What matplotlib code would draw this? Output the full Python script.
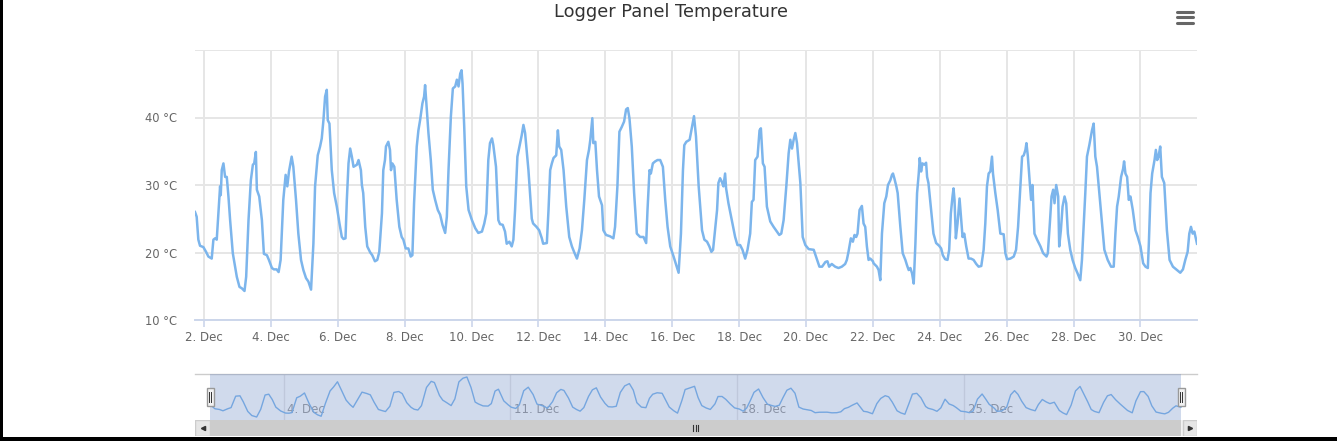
import matplotlib
matplotlib.use("Agg")
import matplotlib.pyplot as plt
import matplotlib.transforms as mtransforms
from matplotlib.patches import Rectangle
from matplotlib.lines import Line2D
import numpy as np

# ---------- data (day of December, panel temperature in degC) ----------
days = [
    1.73, 1.78, 1.83, 1.88, 1.98, 2.06, 2.13, 2.23, 2.28, 2.33, 2.38, 2.48, 2.50, 2.53, 2.58, 2.63,
    2.68, 2.73, 2.78, 2.86, 2.93, 2.98, 3.06, 3.13, 3.21, 3.26, 3.33, 3.40, 3.46, 3.50, 3.55, 3.58,
    3.65, 3.73, 3.79, 3.88, 3.94, 4.03, 4.09, 4.17, 4.23, 4.29, 4.37, 4.44, 4.49, 4.54, 4.62, 4.67,
    4.75, 4.82, 4.90, 4.97, 5.05, 5.12, 5.20, 5.27, 5.32, 5.40, 5.47, 5.52, 5.57, 5.62, 5.67, 5.70,
    5.75, 5.82, 5.89, 5.97, 6.05, 6.12, 6.17, 6.23, 6.27, 6.32, 6.37, 6.42, 6.47, 6.57, 6.62, 6.69,
    6.72, 6.76, 6.82, 6.88, 6.97, 7.03, 7.11, 7.18, 7.24, 7.32, 7.36, 7.41, 7.44, 7.51, 7.56, 7.59,
    7.63, 7.69, 7.76, 7.84, 7.91, 7.96, 8.03, 8.11, 8.18, 8.23, 8.28, 8.36, 8.41, 8.46, 8.53, 8.58,
    8.61, 8.64, 8.71, 8.78, 8.84, 8.91, 8.99, 9.06, 9.13, 9.21, 9.26, 9.31, 9.38, 9.44, 9.51, 9.56,
    9.61, 9.66, 9.70, 9.73, 9.78, 9.84, 9.91, 10.01, 10.11, 10.20, 10.31, 10.38, 10.44, 10.50, 10.55, 10.61,
    10.65, 10.73, 10.80, 10.85, 10.93, 11.00, 11.05, 11.13, 11.20, 11.25, 11.30, 11.37, 11.45, 11.50, 11.55, 11.60,
    11.70, 11.80, 11.84, 11.94, 12.02, 12.10, 12.14, 12.25, 12.30, 12.35, 12.40, 12.45, 12.53, 12.58, 12.62, 12.68,
    12.75, 12.83, 12.92, 13.00, 13.08, 13.15, 13.23, 13.30, 13.37, 13.45, 13.51, 13.55, 13.61, 13.64, 13.70, 13.75,
    13.81, 13.90, 13.94, 14.02, 14.14, 14.24, 14.29, 14.36, 14.42, 14.49, 14.56, 14.62, 14.67, 14.72, 14.79, 14.86,
    14.94, 15.04, 15.14, 15.22, 15.26, 15.32, 15.36, 15.42, 15.49, 15.56, 15.64, 15.72, 15.79, 15.86, 15.94, 16.04,
    16.12, 16.19, 16.26, 16.32, 16.36, 16.42, 16.52, 16.59, 16.65, 16.71, 16.79, 16.86, 16.89, 16.96, 17.04, 17.11,
    17.17, 17.22, 17.28, 17.34, 17.38, 17.43, 17.48, 17.53, 17.58, 17.61, 17.68, 17.78, 17.88, 17.95, 18.03, 18.10,
    18.18, 18.25, 18.33, 18.38, 18.43, 18.48, 18.55, 18.61, 18.65, 18.71, 18.76, 18.83, 18.93, 19.03, 19.13, 19.20,
    19.26, 19.33, 19.41, 19.48, 19.53, 19.58, 19.63, 19.68, 19.73, 19.83, 19.90, 19.98, 20.08, 20.23, 20.33, 20.40,
    20.48, 20.58, 20.64, 20.69, 20.77, 20.87, 20.97, 21.07, 21.17, 21.22, 21.27, 21.34, 21.40, 21.45, 21.50, 21.54,
    21.60, 21.67, 21.72, 21.77, 21.82, 21.87, 21.92, 22.00, 22.02, 22.12, 22.17, 22.22, 22.27, 22.34, 22.40, 22.45,
    22.52, 22.57, 22.60, 22.64, 22.70, 22.74, 22.82, 22.89, 22.97, 23.02, 23.07, 23.12, 23.17, 23.22, 23.27, 23.32,
    23.37, 23.40, 23.44, 23.48, 23.54, 23.59, 23.62, 23.66, 23.72, 23.81, 23.89, 23.98, 24.04, 24.09, 24.16, 24.23,
    24.28, 24.33, 24.38, 24.41, 24.44, 24.48, 24.53, 24.59, 24.64, 24.68, 24.73, 24.79, 24.86, 24.93, 25.01, 25.09,
    25.16, 25.24, 25.31, 25.36, 25.41, 25.46, 25.51, 25.56, 25.59, 25.66, 25.73, 25.81, 25.91, 25.96, 26.01, 26.11,
    26.21, 26.28, 26.34, 26.41, 26.46, 26.51, 26.56, 26.59, 26.63, 26.69, 26.73, 26.77, 26.83, 26.91, 27.01, 27.09,
    27.19, 27.23, 27.29, 27.34, 27.39, 27.43, 27.48, 27.54, 27.57, 27.62, 27.67, 27.73, 27.78, 27.83, 27.90, 27.97,
    28.05, 28.12, 28.20, 28.25, 28.30, 28.35, 28.40, 28.47, 28.55, 28.60, 28.65, 28.70, 28.77, 28.85, 28.92, 29.02,
    29.12, 29.20, 29.25, 29.30, 29.35, 29.42, 29.48, 29.51, 29.55, 29.60, 29.65, 29.70, 29.77, 29.85, 29.92, 30.00,
    30.08, 30.15, 30.22, 30.25, 30.30, 30.35, 30.42, 30.46, 30.50, 30.54, 30.59, 30.64, 30.71, 30.79, 30.87, 30.97,
    31.09, 31.19, 31.27, 31.34, 31.41, 31.46, 31.51, 31.56, 31.61, 31.69,
]
temps = [
    26.0, 25.3, 21.9, 21.0, 20.8, 20.1, 19.4, 19.1, 21.9, 22.1, 21.9, 29.8, 28.5, 32.2, 33.2, 31.2,
    31.2, 28.3, 24.8, 19.9, 17.9, 16.4, 14.9, 14.7, 14.3, 16.4, 24.8, 30.7, 33.0, 33.2, 34.9, 29.3,
    28.3, 24.8, 19.8, 19.6, 18.9, 17.7, 17.5, 17.5, 17.1, 18.9, 27.8, 31.5, 29.8, 32.0, 34.2, 32.7,
    27.8, 22.8, 18.9, 17.4, 16.2, 15.7, 14.5, 21.3, 29.8, 34.4, 35.7, 36.9, 39.6, 43.1, 44.1, 39.6,
    39.1, 32.2, 28.8, 26.8, 24.3, 22.3, 22.0, 22.1, 27.8, 33.2, 35.4, 34.2, 32.7, 33.0, 33.7, 32.2,
    30.0, 28.8, 23.8, 20.9, 20.0, 19.6, 18.7, 18.9, 20.1, 25.8, 32.2, 33.7, 35.7, 36.4, 35.2, 32.2,
    33.2, 32.7, 27.8, 23.8, 22.3, 21.9, 20.6, 20.6, 19.4, 19.6, 27.3, 35.7, 38.1, 39.6, 42.1, 43.1,
    44.8, 42.6, 37.7, 33.7, 29.3, 27.8, 26.3, 25.6, 24.1, 22.9, 25.3, 32.2, 40.1, 44.3, 44.6, 45.6,
    44.6, 46.5, 47.0, 45.0, 38.6, 29.8, 26.3, 24.8, 23.6, 22.9, 23.1, 24.3, 25.8, 33.7, 36.2, 36.9,
    35.9, 32.7, 24.8, 24.2, 24.1, 23.1, 21.3, 21.6, 20.9, 21.9, 26.3, 34.2, 36.2, 37.4, 38.9, 37.7,
    32.2, 25.0, 24.3, 23.8, 23.3, 22.1, 21.3, 21.4, 26.3, 32.2, 33.2, 34.0, 34.4, 38.1, 35.7, 35.2,
    32.2, 26.8, 22.3, 20.9, 19.9, 19.1, 20.6, 23.3, 27.8, 33.7, 35.2, 36.7, 39.9, 36.2, 36.4, 32.2,
    28.3, 27.0, 23.3, 22.6, 22.4, 22.1, 23.8, 29.8, 37.9, 38.6, 39.4, 41.2, 41.4, 39.9, 35.7, 28.8,
    22.8, 22.3, 22.3, 21.4, 26.3, 32.2, 31.7, 33.2, 33.5, 33.7, 33.7, 32.7, 27.8, 23.8, 20.9, 19.4,
    18.1, 17.0, 22.8, 32.2, 35.9, 36.4, 36.7, 38.6, 40.2, 37.2, 29.8, 25.3, 23.3, 21.9, 21.6, 20.9,
    20.1, 20.4, 23.3, 26.3, 30.3, 31.0, 30.5, 29.8, 31.7, 29.5, 27.3, 24.8, 22.3, 21.1, 21.1, 20.4,
    19.1, 20.4, 22.8, 27.5, 27.8, 33.7, 34.2, 38.1, 38.4, 33.2, 32.7, 26.8, 24.6, 23.8, 23.1, 22.6,
    22.8, 24.8, 29.8, 34.7, 36.7, 35.4, 36.7, 37.7, 36.2, 30.3, 22.3, 21.1, 20.5, 20.4, 18.9, 17.9,
    17.9, 18.6, 18.7, 17.9, 18.3, 17.9, 17.7, 17.9, 18.3, 18.9, 20.1, 22.1, 21.6, 22.6, 22.3, 22.8,
    26.3, 26.9, 24.3, 23.8, 20.9, 18.9, 19.1, 18.7, 18.4, 17.9, 17.4, 15.9, 22.8, 27.3, 28.3, 30.0,
    30.7, 31.5, 31.7, 31.0, 29.8, 28.8, 23.8, 19.9, 18.9, 18.1, 17.4, 17.7, 16.9, 15.4, 21.3, 28.8,
    31.7, 34.0, 32.0, 33.2, 33.0, 33.3, 31.2, 30.3, 27.3, 22.8, 21.4, 21.0, 20.6, 19.6, 19.0, 18.9,
    20.4, 25.8, 28.3, 29.5, 27.8, 22.1, 24.3, 28.0, 24.8, 22.3, 22.8, 20.9, 19.1, 19.1, 18.9, 18.3,
    17.9, 18.0, 20.4, 24.3, 29.8, 31.7, 32.0, 34.2, 31.7, 28.8, 26.3, 22.8, 22.7, 19.9, 19.0, 19.1,
    19.4, 20.4, 23.8, 29.8, 34.2, 34.4, 35.2, 36.2, 34.4, 30.3, 27.8, 30.0, 22.8, 21.9, 20.9, 19.9,
    19.4, 19.9, 24.3, 28.3, 29.3, 27.3, 30.0, 28.3, 20.9, 23.3, 26.8, 28.3, 27.3, 22.8, 20.4, 18.9,
    17.7, 16.9, 15.9, 18.9, 23.8, 28.8, 34.2, 35.9, 38.1, 39.1, 34.2, 32.7, 28.8, 24.3, 20.4, 18.9,
    17.9, 17.9, 22.8, 26.8, 28.3, 31.2, 32.4, 33.5, 31.7, 31.2, 27.8, 28.3, 26.3, 23.3, 22.3, 20.9,
    18.4, 17.9, 17.7, 21.3, 28.8, 31.7, 33.7, 35.2, 33.7, 34.2, 35.7, 31.2, 30.3, 23.3, 18.9, 17.9,
    17.4, 17.0, 17.5, 18.9, 20.1, 22.8, 23.8, 22.8, 23.1, 21.3,
]

y_ticks = [10, 20, 30, 40]
x_ticks = list(range(2, 31, 2))
nav_ticks = [4, 11, 18, 25]
title = "Logger Panel Temperature"

W, H = 1337, 446
LINE = "#7cb5ec"
GRID = "#e6e6e6"
LABEL = "#666666"

plt.rcParams["font.family"] = ["DejaVu Sans"]

fig = plt.figure(figsize=(W / 100, H / 100), dpi=100)
fig.patch.set_facecolor("white")


def px_box(x0, y0, x1, y1):
    # pixel box (top-left origin) -> figure fraction rect
    return [x0 / W, 1 - y1 / H, (x1 - x0) / W, (y1 - y0) / H]


# ---------- main chart ----------
ax = fig.add_axes(px_box(195, 50, 1197, 320))
ax.plot(days, temps, color=LINE, lw=1.8, zorder=3, solid_joinstyle="round")
ax.set_xlim(days[0], days[-1])
ax.set_ylim(10, 50)
ax.set_yticks(y_ticks + [50])
ax.set_yticklabels([f"{v} °C" for v in y_ticks] + [""])
ax.set_xticks(x_ticks)
ax.set_xticklabels([f"{d}. Dec" for d in x_ticks])
ax.grid(True, color=GRID, lw=1.4, zorder=0)
ax.set_axisbelow(True)
for s in ["top", "right", "left"]:
    ax.spines[s].set_visible(False)
ax.spines["bottom"].set_color("#ccd6eb")
ax.spines["bottom"].set_linewidth(1.4)
ax.spines["bottom"].set_zorder(1)
ax.tick_params(axis="y", length=0, pad=13, labelsize=8.3, labelcolor=LABEL)
ax.tick_params(axis="x", length=5, width=1.2, color="#ccd6eb", pad=3,
               labelsize=8.5, labelcolor=LABEL)

fig.text(671.5 / W, 1 - 12 / H, title, ha="center", va="center",
         fontsize=12.8, color="#333333")

# ---------- navigator (data grouped into 3 h buckets, like the stock chart does) ----------
d_arr = np.array(days)
t_arr = np.array(temps)
bucket = np.floor((d_arr - d_arr[0]) / 0.125)
nav_x = [d_arr[bucket == b].mean() for b in np.unique(bucket)]
nav_y = [t_arr[bucket == b].mean() for b in np.unique(bucket)]
nav_x[0], nav_x[-1] = days[0], days[-1]

span = days[-1] - days[0]
ppd = (1181 - 210) / span  # px per day in navigator
nav = fig.add_axes(px_box(195, 374, 1197, 420))
nav.set_xlim(days[0] - 15 / ppd, days[-1] + 16 / ppd)
lo, hi = min(nav_y), max(nav_y)
pad = (hi - lo) * 3 / 40
nav.set_ylim(lo - pad, hi + pad)
for d in nav_ticks:
    nav.axvline(d, color=GRID, lw=1, zorder=0)
    nav.annotate(f"{d}. Dec", xy=(d, 0), xycoords=("data", "axes fraction"),
                 xytext=(2.5, 3), textcoords="offset points", ha="left", va="bottom",
                 fontsize=8.5, color="#999999", zorder=1)
nav.plot(nav_x, nav_y, color=LINE, lw=1.0, zorder=2, solid_joinstyle="round")
nav.axvspan(days[0], days[-1], color="#6685c2", alpha=0.3, lw=0, zorder=3)
nav.set_xticks([])
nav.set_yticks([])
for s in ["bottom", "right", "left"]:
    nav.spines[s].set_visible(False)
nav.spines["top"].set_color("#cccccc")
nav.spines["top"].set_linewidth(1.0)
nav.patch.set_alpha(0)

blend = mtransforms.blended_transform_factory(nav.transData, nav.transAxes)
hw = 7 / ppd
for d in (days[0], days[-1]):
    nav.add_patch(Rectangle((d - hw / 2, 0.31), hw, 0.38, transform=blend,
                            facecolor="#f2f2f2", edgecolor="#999999", lw=1, zorder=5))
    for off in (-1.2 / ppd, 1.2 / ppd):
        nav.add_line(Line2D([d + off, d + off], [0.40, 0.60], transform=blend,
                            color="#333333", lw=0.7, zorder=6))

# ---------- scrollbar ----------
sb = fig.add_axes(px_box(195, 420, 1197, 436))
sb.set_xlim(nav.get_xlim())
sb.set_ylim(0, 1)
sb.axis("off")
x0, x1 = nav.get_xlim()
sb.add_patch(Rectangle((x0, 0), x1 - x0, 1, facecolor="#f2f2f2", lw=0))
sb.add_patch(Rectangle((days[0], 0), span, 1, facecolor="#cccccc", lw=0))
sb.add_patch(Rectangle((x0, 0), days[0] - x0, 1, facecolor="#e6e6e6",
                       edgecolor="#cccccc", lw=1))
sb.add_patch(Rectangle((days[-1] + 2 / ppd, 0), x1 - days[-1] - 2 / ppd, 1,
                       facecolor="#e6e6e6", edgecolor="#cccccc", lw=1))
sb.plot([(x0 + days[0]) / 2], [0.5], marker="<", ms=3, color="#333333")
sb.plot([(x1 + days[-1]) / 2 + 1 / ppd], [0.5], marker=">", ms=3, color="#333333")
mid = (days[0] + days[-1]) / 2
for off in (-2.5, 0, 2.5):
    sb.plot([mid + off / ppd] * 2, [0.3, 0.7], color="#333333", lw=0.8)

# ---------- frame + menu icon ----------
ov = fig.add_axes([0, 0, 1, 1], zorder=10)
ov.set_xlim(0, W)
ov.set_ylim(H, 0)
ov.axis("off")
ov.patch.set_alpha(0)
ov.add_patch(Rectangle((0, 0), 3, 441, facecolor="black", lw=0))
ov.add_patch(Rectangle((0, 437), W, 4, facecolor="black", lw=0))
for yy in (11.5, 17, 22.5):
    ov.plot([1177, 1193], [yy, yy], color="#666666", lw=2.2, solid_capstyle="round")

fig.savefig("out.png", dpi=100, facecolor="white")
